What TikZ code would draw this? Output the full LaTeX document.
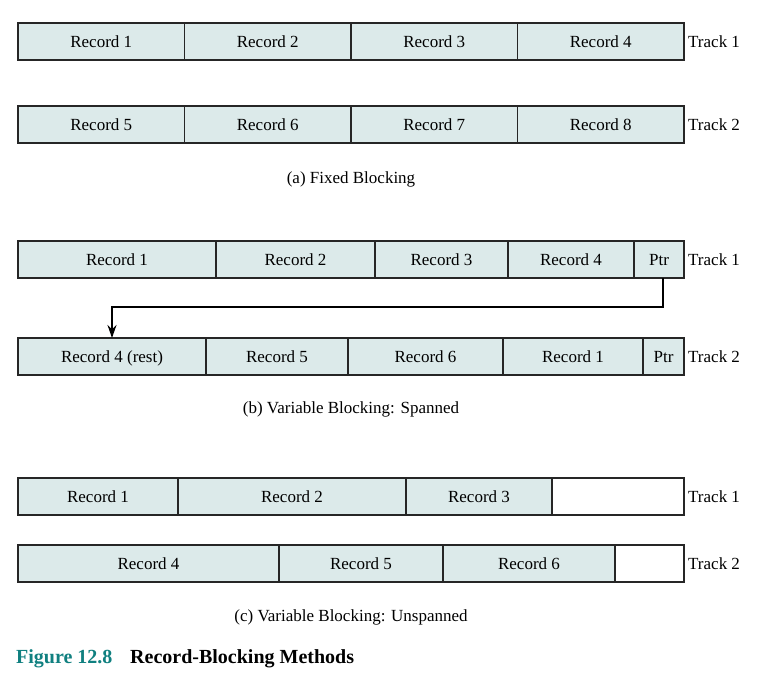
\documentclass[tikz,border=0pt]{standalone}
\usepackage{fontspec}
\setmainfont{Liberation Serif}
\usepackage{xcolor}
\usetikzlibrary{positioning,arrows.meta}
\definecolor{recfill}{RGB}{220,234,234}
\definecolor{figteal}{RGB}{16,128,128}

\begin{document}
\begin{tikzpicture}[x=1pt,y=-1pt,
  font=\fontsize{17}{20}\selectfont,
  node distance=0pt,
  rec/.style={draw=black!85, line width=1.1pt, fill=recfill, minimum height=37pt,
    text height=12pt, text depth=1pt,
    inner sep=0pt, outer sep=0pt, minimum width=#1},
  gap/.style={rec=#1, fill=white},
  track/.style={anchor=west, inner sep=0pt},
  subcap/.style={inner sep=0pt}]
\useasboundingbox (0,0) rectangle (761,681);
% (a) fixed blocking
\node[rec=166.5pt, anchor=west] (a1r1) at (18,41.5) {Record 1};
\node[rec=166.5pt, right=of a1r1] (a1r2) {Record 2};
\node[rec=166.5pt, right=of a1r2] (a1r3) {Record 3};
\node[rec=166.5pt, right=of a1r3] (a1r4) {Record 4};
\node[track, right=4pt of a1r4] (a1t) {Track 1};
\node[rec=166.5pt, anchor=west] (a2r5) at (18,124.5) {Record 5};
\node[rec=166.5pt, right=of a2r5] (a2r6) {Record 6};
\node[rec=166.5pt, right=of a2r6] (a2r7) {Record 7};
\node[rec=166.5pt, right=of a2r7] (a2r8) {Record 8};
\node[track, right=4pt of a2r8] (a2t) {Track 2};
\node[subcap] (capa) at (351,179) {(a) Fixed Blocking};
% (b) variable blocking, spanned
\node[rec=198pt, anchor=west] (b1r1) at (18,259.5) {Record 1};
\node[rec=159pt, right=of b1r1] (b1r2) {Record 2};
\node[rec=133pt, right=of b1r2] (b1r3) {Record 3};
\node[rec=126pt, right=of b1r3] (b1r4) {Record 4};
\node[rec=50pt, right=of b1r4] (b1p) {Ptr};
\node[track, right=4pt of b1p] (b1t) {Track 1};
\node[rec=188pt, anchor=west] (b2r4) at (18,356.5) {Record 4 (rest)};
\node[rec=142pt, right=of b2r4] (b2r5) {Record 5};
\node[rec=155pt, right=of b2r5] (b2r6) {Record 6};
\node[rec=140pt, right=of b2r6] (b2r1) {Record 1};
\node[rec=41pt, right=of b2r1] (b2p) {Ptr};
\node[track, right=4pt of b2p] (b2t) {Track 2};
\draw[line width=1.8pt, -{Stealth[length=13pt,width=9pt]}]
  ([xshift=4pt]b1p.south) -- ++(0,29) -| (b2r4.north);
\node[subcap] (capb) at (351,409) {(b) Variable Blocking: Spanned};
% (c) variable blocking, unspanned
\node[rec=160pt, anchor=west] (c1r1) at (18,496.5) {Record 1};
\node[rec=228pt, right=of c1r1] (c1r2) {Record 2};
\node[rec=146pt, right=of c1r2] (c1r3) {Record 3};
\node[gap=132pt, right=of c1r3] (c1g) {};
\node[track, right=4pt of c1g] (c1t) {Track 1};
\node[rec=261pt, anchor=west] (c2r4) at (18,563.5) {Record 4};
\node[rec=164pt, right=of c2r4] (c2r5) {Record 5};
\node[rec=172pt, right=of c2r5] (c2r6) {Record 6};
\node[gap=69pt, right=of c2r6] (c2g) {};
\node[track, right=4pt of c2g] (c2t) {Track 2};
\node[subcap] (capc) at (351,617) {(c) Variable Blocking: Unspanned};
% figure caption
\node[subcap, anchor=west, font=\fontsize{20}{24}\selectfont\bfseries, text=figteal] (fignum) at (16,659) {Figure 12.8};
\node[subcap, anchor=west, font=\fontsize{20}{24}\selectfont\bfseries] (figtitle) at (130,659) {Record-Blocking Methods};
\end{tikzpicture}
\end{document}
